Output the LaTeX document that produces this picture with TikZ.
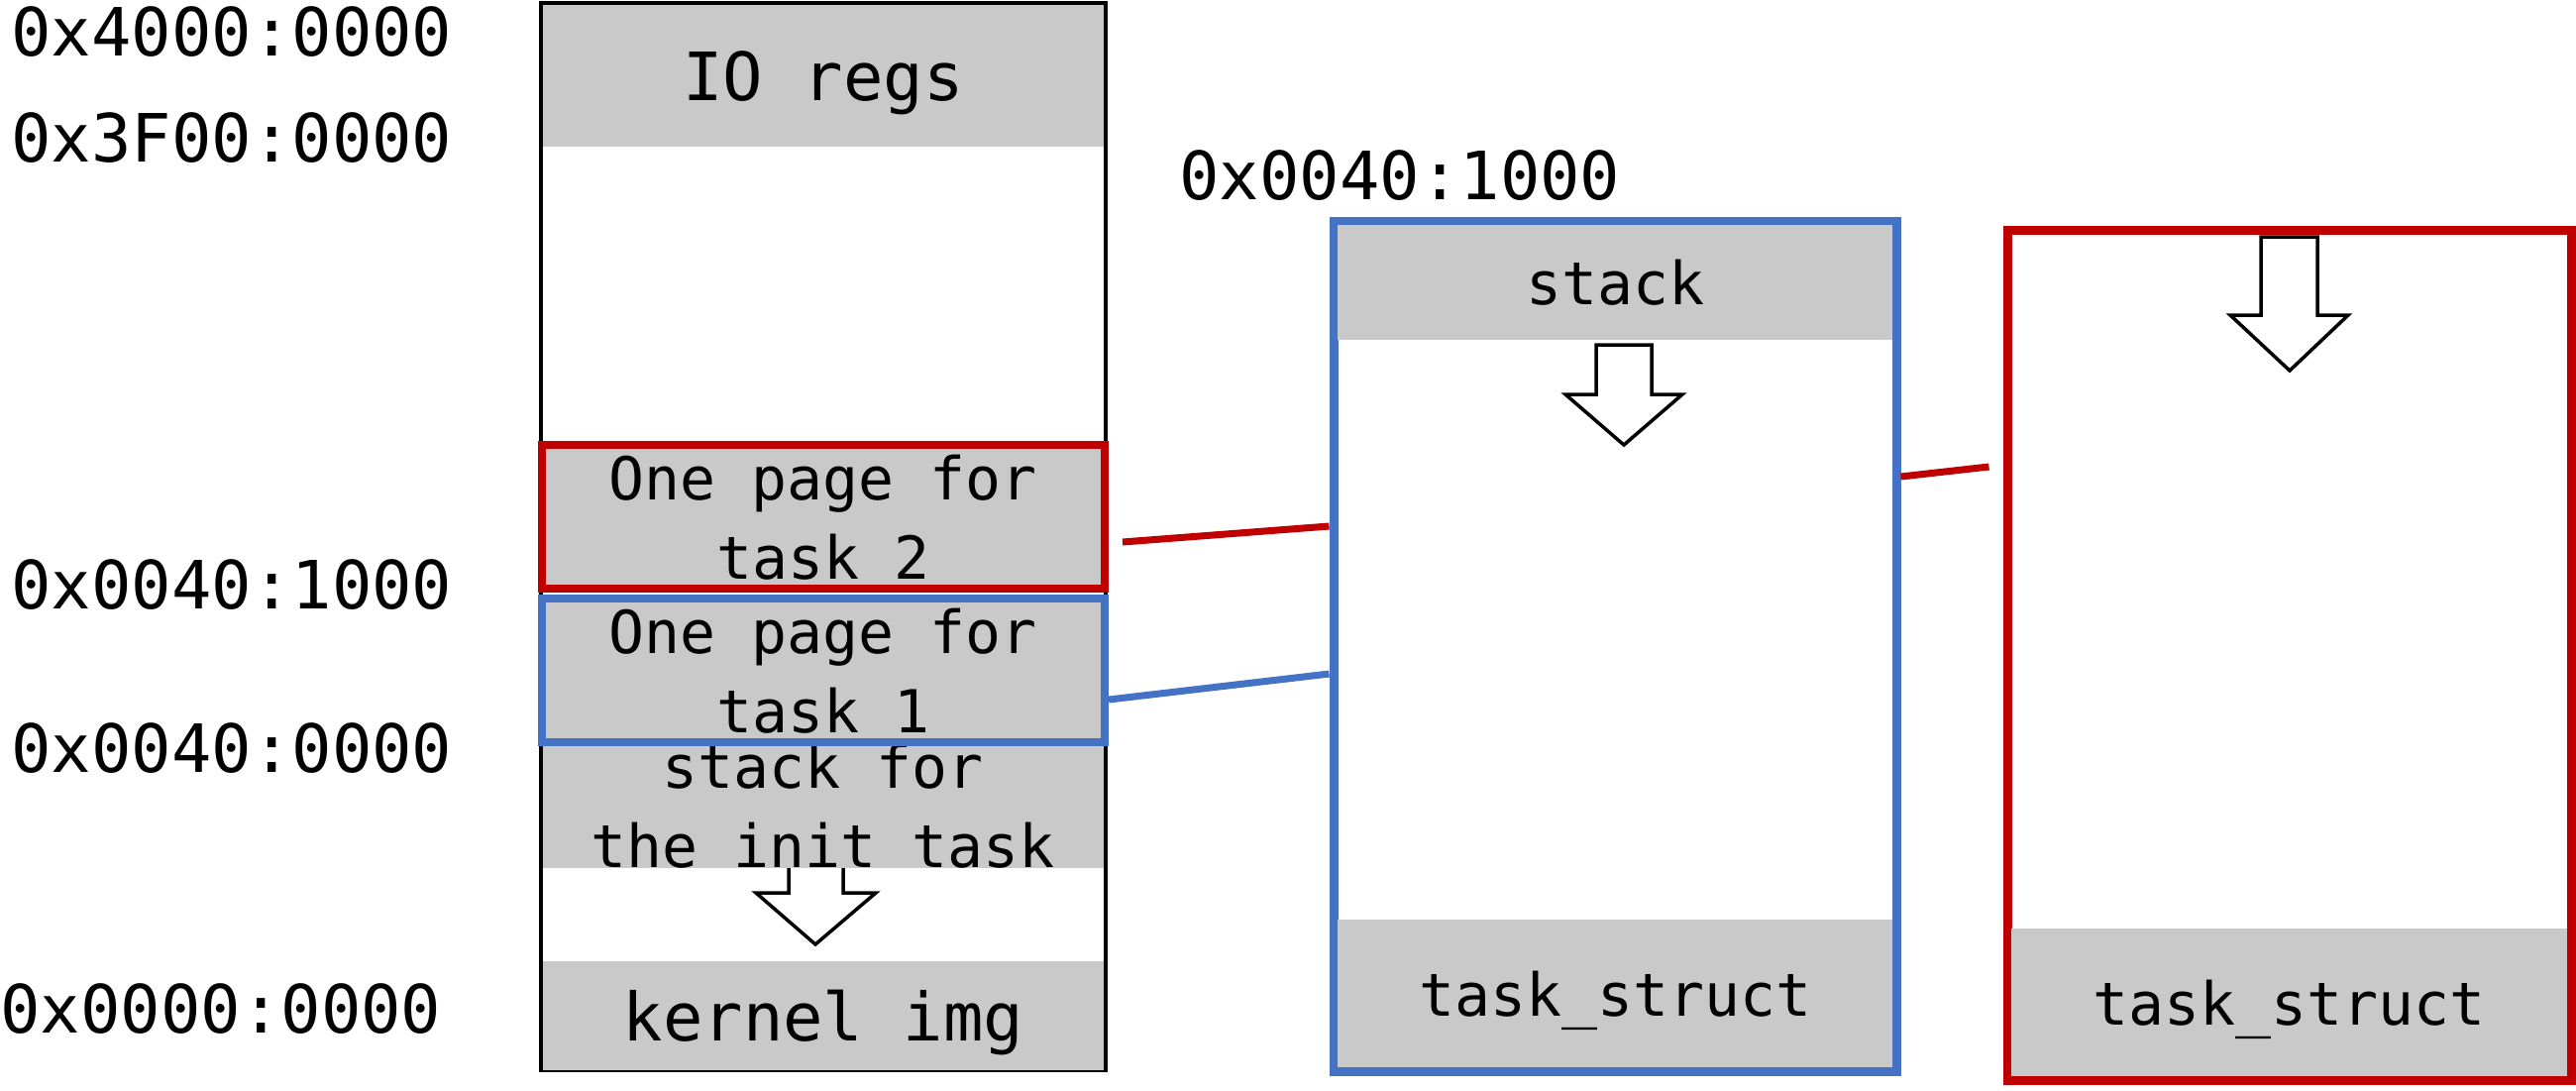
\documentclass[tikz,border=0pt]{standalone}
\usepackage{fontspec}
\newfontfamily\monofnt{DejaVu Sans Mono}
\usetikzlibrary{calc}
\definecolor{boxgray}{RGB}{201,201,201}
\definecolor{mred}{RGB}{192,0,0}
\definecolor{mblue}{RGB}{68,114,196}
\begin{document}
\begin{tikzpicture}[x=0.5pt,y=-0.5pt,
  big/.style={font=\monofnt\fontsize{33.6}{40}\selectfont},
  small/.style={font=\monofnt\fontsize{29.9}{40}\selectfont},
  blk/.style 2 args={rectangle, inner sep=0pt, minimum width=#1, minimum height=#2},
  graybox/.style 2 args={blk={#1}{#2}, fill=boxgray, draw=none, text depth=0pt, align=center},
  addr/.style={big, anchor=west, inner sep=0pt, text depth=0pt},
  hollow/.style={draw=black, fill=white, line width=1.75pt, line join=miter},
  link/.style={line width=3.5pt}
]
\useasboundingbox (0,0) rectangle (2600,1100);

% ---- physical memory column ----
\node[blk={285pt}{538.5pt}, draw=black, line width=2pt] (mem) at (831,541.5) {};
\node[graybox={283pt}{71.5pt}, big] (io) at (831,76.5) {IO regs};
\node[graybox={283pt}{62pt}, small] (initstk) at (831,813) {stack for\\the init task};
\node[graybox={283pt}{55pt}, big] (kimg) at (831,1025) {kernel img};
\node[graybox={284pt}{72.5pt}, small, draw=mred, line width=4pt] (t2) at (831,521.5) {One page for\\task 2};
\node[graybox={284pt}{72.5pt}, small, draw=mblue, line width=4pt] (t1) at (831,676.5) {One page for\\task 1};
\draw[hollow] (796,876) -- (796,901) -- (763,901) -- (823,953) -- (884,901) -- (851,901) -- (851,876);

% ---- addresses ----
\node[addr] (a4000) at (11,32) {0x4000:0000};
\node[addr] (a3f00) at (11,139) {0x3F00:0000};
\node[addr] (a0041) at (11,590) {0x0040:1000};
\node[addr] (a0040) at (11,755) {0x0040:0000};
\node[addr] (a0000) at (0,1018) {0x0000:0000};
\node[addr] (atop) at (1190,177) {0x0040:1000};

% ---- page of task 1 ----
\node[blk={284pt}{429pt}, draw=mblue, line width=4.5pt] (pg1) at (1630,652) {};
\node[graybox={280pt}{58pt}, small] (stk1) at (1630,285) {stack};
\node[graybox={280pt}{74.5pt}, small] (ts1) at (1630,1002.5) {task\_struct};
\draw[hollow] (1611,348) -- (1667,348) -- (1667,398) -- (1698,398) -- (1639,449) -- (1580,398) -- (1611,398) -- cycle;

% ---- page of task 2 ----
\node[blk={284.5pt}{429pt}, draw=mred, line width=4.5pt] (pg2) at (2310.5,661) {};
\node[graybox={280.5pt}{74.5pt}, small] (ts2) at (2310.5,1011.5) {task\_struct};
\draw[hollow] (2282,239) -- (2339,239) -- (2339,318) -- (2370,318) -- (2311,374) -- (2251,318) -- (2282,318) -- cycle;

% ---- connectors ----
\draw[link, mred] ($(t2.east |- 0,547)+(14,0)$) -- (pg1.west |- 0,531);
\draw[link, mblue] (t1.east |- 0,706) -- (pg1.west |- 0,680);
\draw[link, mred] (pg1.east |- 0,481) -- ($(pg2.west |- 0,471)+(-14,0)$);
\end{tikzpicture}
\end{document}
